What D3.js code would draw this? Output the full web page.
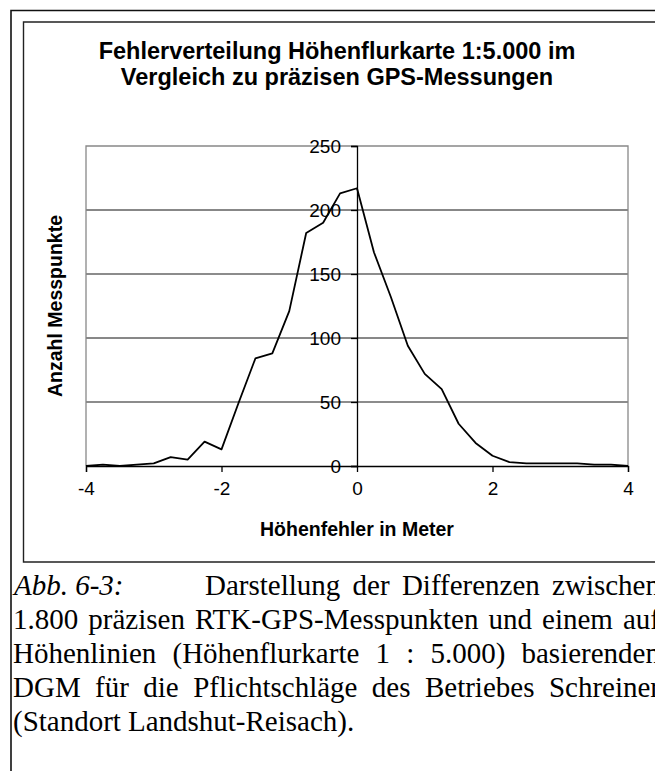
<!DOCTYPE html>
<html>
<head>
<meta charset="utf-8">
<script src="https://cdn.jsdelivr.net/npm/d3@7"></script>
<style>
  html, body { margin: 0; padding: 0; background: #fff; }
  svg { display: block; }
</style>
</head>
<body>
<div id="chart"></div>
<script>
// Höhenfehler (m) and Anzahl Messpunkte
const errorMeters = [-4, -3.75, -3.5, -3.25, -3, -2.75, -2.5, -2.25, -2, -1.75, -1.5, -1.25, -1, -0.75, -0.5, -0.25,
    0, 0.25, 0.5, 0.75, 1, 1.25, 1.5, 1.75, 2, 2.25, 2.5, 2.75, 3, 3.25, 3.5, 3.75, 4];
const pointCounts = [0, 1, 0, 1, 2, 7, 5, 19, 13, 49, 84, 88, 121, 182, 190, 213,
    217, 167, 132, 94, 72, 60, 33, 18, 8, 3, 2, 2, 2, 2, 1, 1, 0];
const xTicks = [-4, -2, 0, 2, 4];
const yTicks = [0, 50, 100, 150, 200, 250];

const titleLines = ['Fehlerverteilung Höhenflurkarte 1:5.000 im', 'Vergleich zu präzisen GPS-Messungen'];
const xTitle = 'Höhenfehler in Meter';
const yTitle = 'Anzahl Messpunkte';
const captionLines = [
    'Darstellung der Differenzen zwischen',
    '1.800 präzisen RTK-GPS-Messpunkten und einem auf',
    'Höhenlinien (Höhenflurkarte 1 : 5.000) basierenden',
    'DGM für die Pflichtschläge des Betriebes Schreiner',
    '(Standort Landshut-Reisach).'
];

const W = 655, H = 771;
const sans = '"Liberation Sans", Arial, sans-serif';
const serif = '"Liberation Serif", "Times New Roman", serif';

const svg = d3.select('#chart').append('svg')
    .attr('width', W)
    .attr('height', H);

// outer frame and chart box
svg.append('path')
    .attr('d', 'M11,771 V10.5 H660')
    .attr('fill', 'none').attr('stroke', '#111').attr('stroke-width', 1.6);
svg.append('path')
    .attr('d', 'M660,22 H23.5 V562 H660')
    .attr('fill', 'none').attr('stroke', '#222').attr('stroke-width', 1.4);

const plot = { left: 86, right: 628, top: 146, bottom: 466 };

const x = d3.scaleLinear().domain([-4, 4]).range([plot.left, plot.right]);
const y = d3.scaleLinear().domain([0, 250]).range([plot.bottom, plot.top]);

// gridlines (the scan renders every other one a bit greyer)
svg.append('g')
    .selectAll('line')
    .data(yTicks.filter((d) => d > 0 && d < 250))
    .join('line')
        .attr('x1', plot.left).attr('x2', plot.right)
        .attr('y1', (d) => y(d)).attr('y2', (d) => y(d))
        .attr('stroke', (d) => d % 100 === 0 ? '#111' : '#666')
        .attr('stroke-width', (d) => d % 100 === 0 ? 1 : 1.4);

// plot border (grey) left, top, right
svg.append('path')
    .attr('d', `M${plot.left},${plot.bottom} V${plot.top} H${plot.right} V${plot.bottom}`)
    .attr('fill', 'none').attr('stroke', '#888').attr('stroke-width', 1.3);

// axes
const xAxis = d3.axisBottom(x).tickValues(xTicks).tickSize(6).tickPadding(10);
const yAxis = d3.axisLeft(y).tickValues(yTicks).tickSize(6).tickPadding(10);

const gx = svg.append('g')
    .attr('transform', 'translate(0,' + plot.bottom + ')')
    .call(xAxis);
const gy = svg.append('g')
    .attr('transform', 'translate(' + x(0) + ',0)')
    .call(yAxis);

[gx, gy].forEach((g) => {
    g.select('.domain').attr('stroke', '#000').attr('stroke-width', 1.3);
    g.selectAll('.tick line').attr('stroke', '#000').attr('stroke-width', 1.3);
    g.selectAll('.tick text')
        .attr('fill', '#000')
        .style('font-family', sans)
        .style('font-size', '19px');
});
gx.selectAll('.tick text').text((d) => String(d));

// the data line
const line = d3.line()
    .x((d, i) => x(errorMeters[i]))
    .y((d) => y(d));

svg.append('path')
    .datum(pointCounts)
    .attr('d', line)
    .attr('fill', 'none')
    .attr('stroke', '#000')
    .attr('stroke-width', 1.8)
    .attr('stroke-linejoin', 'round');

// titles
svg.append('text')
    .attr('x', 337).attr('y', 59)
    .attr('text-anchor', 'middle')
    .style('font-family', sans).style('font-weight', 'bold').style('font-size', '23.5px')
    .selectAll('tspan')
    .data(titleLines)
    .join('tspan')
        .attr('x', 337)
        .attr('dy', (d, i) => i === 0 ? 0 : 26)
        .text((d) => d);

svg.append('text')
    .attr('x', x(0)).attr('y', 536)
    .attr('text-anchor', 'middle')
    .style('font-family', sans).style('font-weight', 'bold').style('font-size', '19.5px')
    .text(xTitle);

svg.append('text')
    .attr('transform', 'translate(62,' + ((plot.top + plot.bottom) / 2) + ') rotate(-90)')
    .attr('text-anchor', 'middle')
    .style('font-family', sans).style('font-weight', 'bold').style('font-size', '19.5px')
    .text(yTitle);

// caption, justified like the printed page (runs slightly past the right edge, as in the scan)
const cap = svg.append('g')
    .style('font-family', serif)
    .style('font-size', '29px')
    .attr('fill', '#000');

function justify(text, x0, x1, yy, stretch) {
    const words = text.split(' ');
    const nodes = words.map((w) => cap.append('text').attr('y', yy).text(w));
    const widths = nodes.map((n) => n.node().getComputedTextLength());
    const total = d3.sum(widths);
    const space = stretch && words.length > 1 ? (x1 - x0 - total) / (words.length - 1) : 7;
    let cx = x0;
    nodes.forEach((n, i) => {
        n.attr('x', cx);
        cx += widths[i] + space;
    });
}

const capTop = 595, capStep = 34, capRight = 660;
cap.append('text')
    .attr('x', 14).attr('y', capTop)
    .style('font-style', 'italic')
    .text('Abb. 6-3:');
captionLines.forEach((t, i) => {
    const x0 = i === 0 ? 205 : 13;
    justify(t, x0, capRight, capTop + i * capStep, i < captionLines.length - 1);
});
</script>
</body>
</html>
